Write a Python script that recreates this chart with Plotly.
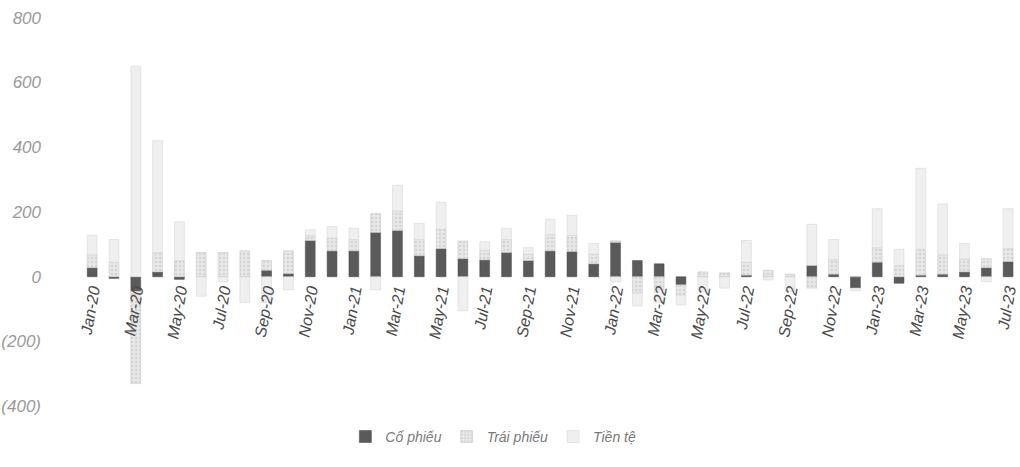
import plotly.graph_objects as go

months = ["Jan-20","Feb-20","Mar-20","Apr-20","May-20","Jun-20","Jul-20","Aug-20","Sep-20","Oct-20","Nov-20","Dec-20",
          "Jan-21","Feb-21","Mar-21","Apr-21","May-21","Jun-21","Jul-21","Aug-21","Sep-21","Oct-21","Nov-21","Dec-21",
          "Jan-22","Feb-22","Mar-22","Apr-22","May-22","Jun-22","Jul-22","Aug-22","Sep-22","Oct-22","Nov-22","Dec-22",
          "Jan-23","Feb-23","Mar-23","Apr-23","May-23","Jun-23","Jul-23"]

co_phieu = [28, -5, -45, 15, -8, 0, 0, 0, 20, 10, 112, 80,
            80, 137, 143, 65, 87, 56, 52, 75, 50, 80, 78, 40,
            106, 50, 40, -25, 0, 0, 5, 0, 0, 35, 8, -35,
            45, -20, 5, 8, 15, 28, 47]

trai_phieu = [40, 45, -285, 60, 50, 75, 75, 80, 30, 70, 15, 40,
              35, 58, 60, 50, 60, 54, 30, 40, 20, 50, 50, 30,
              5, -50, -40, -32, 15, 12, 40, 20, 8, -35, 45, 0,
              45, 35, 80, 60, 40, 28, 40]

tien_te = [60, 70, 650, 345, 120, -60, -15, -80, -80, -40, 18, 35,
           35, -40, 80, 50, 83, -105, 26, 35, 20, 48, 62, 33,
           -15, -40, -40, -30, -45, -35, 67, -10, -45, 127, 62, -8,
           120, 50, 250, 157, 48, -15, 123]

y_ticks = [800, 600, 400, 200, 0, -200, -400]
y_tick_text = ["800", "600", "400", "200", "0", "(200)", "(400)"]

series_names = ["Cổ phiếu", "Trái phiếu", "Tiền tệ"]

FONT = "Liberation Sans Narrow, Liberation Sans, Arial, sans-serif"
x = list(range(len(months)))

fig = go.Figure()
fig.add_trace(go.Bar(x=x, y=co_phieu, name=series_names[0],
                     marker=dict(color="#5a5a5a", line=dict(color="#444444", width=0.5))))
fig.add_trace(go.Bar(x=x, y=trai_phieu, name=series_names[1],
                     marker=dict(color="#dcdcdc", line=dict(color="#c8c8c8", width=0.6),
                                 pattern=dict(shape=".", fgcolor="#c0c0c0", bgcolor="#e8e8e8", size=4, solidity=0.3))))
fig.add_trace(go.Bar(x=x, y=tien_te, name=series_names[2],
                     marker=dict(color="#efefef", line=dict(color="#d8d8d8", width=0.6))))

yr = [-430, 830]
zero_pos = (0 - yr[0]) / (yr[1] - yr[0])

fig.update_layout(
    barmode="relative",
    bargap=0.55,
    width=1020, height=467,
    margin=dict(l=42, r=1, t=8, b=51, autoexpand=False),
    paper_bgcolor="white", plot_bgcolor="white",
    font=dict(family=FONT),
    showlegend=True,
    legend=dict(orientation="h", x=0.462, xanchor="center", y=-0.012, yanchor="top",
                font=dict(size=14, color="#7a7a7a", style="italic", family=FONT),
                traceorder="normal", itemwidth=30),
    xaxis=dict(range=[-2.3, 42.5], tickmode="array", tickvals=x[::2], ticktext=months[::2],
               tickangle=-80, anchor="free", position=zero_pos, automargin=False,
               ticklabeloverflow="allow",
               showline=False, showgrid=False, zeroline=False, ticks="",
               tickfont=dict(size=16, color="#4a4a4a", style="italic", family=FONT)),
    yaxis=dict(range=yr, tickmode="array", tickvals=y_ticks, ticktext=y_tick_text, automargin=False,
               showgrid=False, zeroline=False, showline=False, ticks="",
               tickfont=dict(size=17, color="#9a9a9a", style="italic", family=FONT)),
)

fig.write_html("out.html", config={"displayModeBar": False},
               post_script="document.body.style.margin='0';document.body.style.overflow='hidden';")
